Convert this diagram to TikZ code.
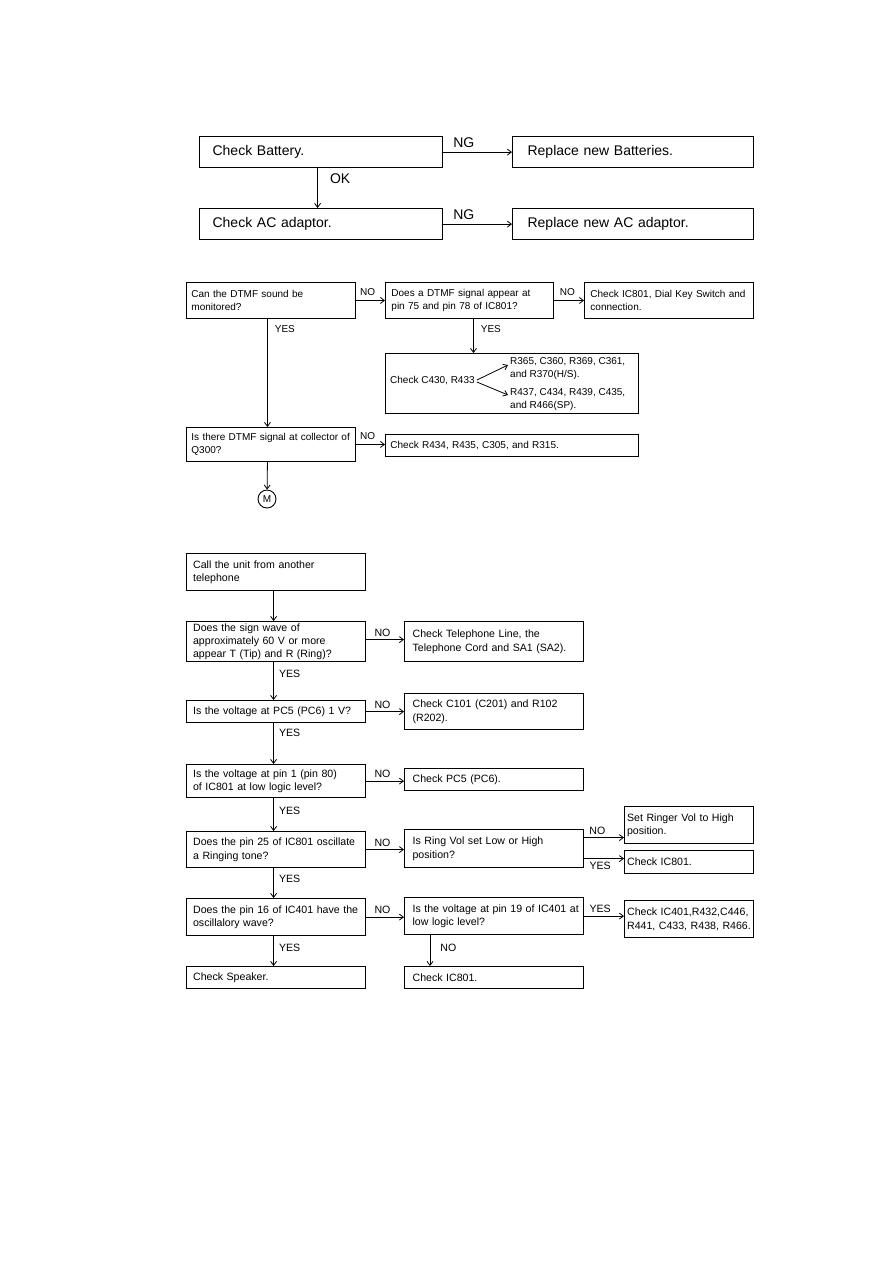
\documentclass[tikz,border=0pt]{standalone}
\usepackage{fontspec}
\setmainfont{Liberation Sans}
\usepackage{tikz}
\usetikzlibrary{arrows.meta}

\begin{document}
\begin{tikzpicture}[x=1pt, y=-1pt,
    box/.style={draw, line width=1.2pt, anchor=north west, align=left, inner ysep=0pt},
    arr/.style={line width=0.8pt, -{Straight Barb[length=4pt,width=6pt]}},
    lab/.style={inner sep=0pt},
    topfont/.style={font=\fontsize{14}{16}\selectfont},
    midfont/.style={font=\fontsize{10}{13}\selectfont},
    lowfont/.style={font=\fontsize{10.6}{13.5}\selectfont}]

    \useasboundingbox (0,0) rectangle (893,1262);

    \node[box, topfont, text width=217pt, minimum height=31pt, inner xsep=13pt] (batt) at (199,136) {Check Battery.};
    \node[box, topfont, text width=211pt, minimum height=31pt, inner xsep=15pt] (newbatt) at (512,136) {Replace new Batteries.};
    \node[box, topfont, text width=217pt, minimum height=31pt, inner xsep=13pt] (acad) at (199,208) {Check AC adaptor.};
    \node[box, topfont, text width=211pt, minimum height=31pt, inner xsep=15pt] (newac) at (512,208) {Replace new AC adaptor.};

    \draw[arr] (batt) -- node[lab, above=4pt, pos=0.3, topfont] {NG} (newbatt);
    \draw[arr] (acad) -- node[lab, above=4pt, pos=0.3, topfont] {NG} (newac);
    \draw[arr] ([xshift=-3.5pt]batt.south) -- node[lab, right=12pt, pos=0.27, topfont] {OK} ([xshift=-3.5pt]acad.north);

    \node[box, midfont, line width=0.9pt, text width=159pt, minimum height=36pt, inner xsep=5pt] (dtmfmon) at (186,282) {Can the DTMF sound be\\monitored?};
    \node[box, midfont, line width=0.9pt, text width=156pt, minimum height=36pt, inner xsep=6pt] (dtmfsig) at (385,282) {Does a DTMF signal appear at\\pin 75 and pin 78 of IC801?};
    \node[box, midfont, line width=0.9pt, text width=157pt, minimum height=36pt, inner xsep=6pt] (chkdial) at (584,282) {Check IC801, Dial Key Switch and\\connection.};
    \node[box, line width=0.9pt, minimum width=253pt, minimum height=60pt] (chkc430) at (385,353) {};
    \node[midfont, anchor=west, inner sep=0pt] (c430txt) at (390,381) {Check C430, R433};
    \node[midfont, anchor=west, align=left, inner sep=0pt] (hsparts) at (510,369) {R365, C360, R369, C361,\\and R370(H/S).};
    \node[midfont, anchor=west, align=left, inner sep=0pt] (spparts) at (510,400) {R437, C434, R439, C435,\\and R466(SP).};
    \node[box, midfont, line width=0.9pt, text width=159pt, minimum height=34pt, inner xsep=5pt] (q300) at (186,427) {\mbox{Is there DTMF signal at collector of}\\Q300?};
    \node[box, midfont, line width=0.9pt, text width=243pt, minimum height=22pt, inner xsep=5pt] (chkr434) at (385,434) {Check R434, R435, C305, and R315.};
    \node[draw, circle, line width=0.9pt, minimum size=18pt, inner sep=0pt, midfont] (mnode) at (267,499) {M};

    \draw[arr] (dtmfmon) -- node[lab, above=4pt, pos=0.4, midfont] {NO} (dtmfsig);
    \draw[arr] (dtmfsig) -- node[lab, above=4pt, pos=0.45, midfont] {NO} (chkdial);
    \draw[arr] ([xshift=4pt]dtmfsig.south) -- node[lab, right=7pt, pos=0.29, midfont] {YES} ([xshift=4pt]dtmfsig.south |- chkc430.north);
    \draw[arr] ([xshift=2pt,yshift=1pt]c430txt.east) -- ([xshift=-2pt,yshift=4pt]hsparts.west);
    \draw[arr] ([xshift=2pt,yshift=-1pt]c430txt.east) -- ([xshift=-2pt,yshift=5pt]spparts.west);
    \draw[arr] ([xshift=-3.5pt]dtmfmon.south) -- node[lab, right=7pt, pos=0.09, midfont] {YES} ([xshift=-3.5pt]q300.north);
    \draw[arr] (q300.east) -- node[lab, above=4pt, pos=0.4, midfont] {NO} (q300.east -| chkr434.west);
    \draw[arr] ([xshift=-3.5pt]q300.south) -- (mnode);

    \node[box, lowfont, text width=166pt, minimum height=37pt, inner xsep=6.5pt] (call) at (186,553) {Call the unit from another\\telephone};
    \node[box, lowfont, text width=166pt, minimum height=40pt, inner xsep=6.5pt, font=\fontsize{10.6}{13}\selectfont] (sine) at (186,621) {Does the sign wave of\\approximately 60 V or more\\appear T (Tip) and R (Ring)?};
    \node[box, lowfont, text width=166pt, minimum height=22pt, inner xsep=6.5pt] (pc5) at (186,700) {Is the voltage at PC5 (PC6) 1 V?};
    \node[box, lowfont, text width=166pt, minimum height=33pt, inner xsep=6.5pt] (pin1) at (186,764) {Is the voltage at pin 1 (pin 80)\\of IC801 at low logic level?};
    \node[box, lowfont, text width=166pt, minimum height=36pt, inner xsep=6.5pt] (pin25) at (186,831) {\mbox{Does the pin 25 of IC801 oscillate}\\a Ringing tone?};
    \node[box, lowfont, text width=166pt, minimum height=37pt, inner xsep=6.5pt] (pin16) at (186,898) {\mbox{Does the pin 16 of IC401 have the}\\oscillalory wave?};
    \node[box, lowfont, text width=166pt, minimum height=22pt, inner xsep=6.5pt] (spk) at (186,966) {Check Speaker.};

    \node[box, lowfont, text width=163pt, minimum height=40pt, inner xsep=8pt] (telline) at (404,621) {Check Telephone Line, the\\Telephone Cord and SA1 (SA2).};
    \node[box, lowfont, text width=163pt, minimum height=36pt, inner xsep=8pt] (c101) at (404,693) {Check C101 (C201) and R102\\(R202).};
    \node[box, lowfont, text width=163pt, minimum height=22pt, inner xsep=8pt] (chkpc5) at (404,768) {Check PC5 (PC6).};
    \node[box, lowfont, text width=163pt, minimum height=38pt, inner xsep=8pt] (ringvol) at (404,829) {Is Ring Vol set Low or High\\position?};
    \node[box, lowfont, text width=163pt, minimum height=37pt, inner xsep=8pt] (pin19) at (404,897) {\mbox{Is the voltage at pin 19 of IC401 at}\\low logic level?};
    \node[box, lowfont, text width=163pt, minimum height=22pt, inner xsep=8pt] (chkicb) at (404,966) {Check IC801.};

    \node[box, lowfont, text width=124pt, minimum height=37pt, inner xsep=2.5pt] (ringer) at (624,806) {Set Ringer Vol to High\\position.};
    \node[box, lowfont, text width=124pt, minimum height=23pt, inner xsep=2.5pt] (chkica) at (624,850) {Check IC801.};
    \node[box, lowfont, text width=124pt, minimum height=37pt, inner xsep=2.5pt] (chk401) at (624,900) {\mbox{Check IC401,R432,C446,}\\R441, C433, R438, R466.};

    \draw[arr] ([xshift=-2.5pt]call.south) -- ([xshift=-2.5pt]sine.north);
    \draw[arr] ([xshift=-2.5pt]sine.south) -- node[lab, right=5pt, pos=0.31, lowfont] {YES} ([xshift=-2.5pt]pc5.north);
    \draw[arr] ([xshift=-2.5pt]pc5.south) -- node[lab, right=5pt, pos=0.24, lowfont] {YES} ([xshift=-2.5pt]pin1.north);
    \draw[arr] ([xshift=-2.5pt]pin1.south) -- node[lab, right=5pt, pos=0.38, lowfont] {YES} ([xshift=-2.5pt]pin25.north);
    \draw[arr] ([xshift=-2.5pt]pin25.south) -- node[lab, right=5pt, pos=0.35, lowfont] {YES} ([xshift=-2.5pt]pin16.north);
    \draw[arr] ([xshift=-2.5pt]pin16.south) -- node[lab, right=5pt, pos=0.39, lowfont] {YES} ([xshift=-2.5pt]spk.north);

    \draw[arr] ([yshift=2pt]sine.east) -- node[lab, above=3pt, pos=0.43, lowfont] {NO} ([yshift=2pt]sine.east -| telline.west);
    \draw[arr] (pc5.east) -- node[lab, above=3pt, pos=0.43, lowfont] {NO} (pc5.east -| c101.west);
    \draw[arr] (pin1.east) -- node[lab, above=3pt, pos=0.43, lowfont] {NO} (pin1.east -| chkpc5.west);
    \draw[arr] (pin25.east) -- node[lab, above=3pt, pos=0.43, lowfont] {NO} (pin25.east -| ringvol.west);
    \draw[arr] (pin16.east) -- node[lab, above=3pt, pos=0.43, lowfont] {NO} (pin16.east -| pin19.west);

    \draw[arr] ([yshift=11pt]ringvol.east) -- node[lab, above=3pt, pos=0.33, lowfont] {NO} ([yshift=11pt]ringvol.east -| ringer.west);
    \draw[arr] ([yshift=-10pt]ringvol.east) -- node[lab, below=3pt, pos=0.4, lowfont] {YES} ([yshift=-10pt]ringvol.east -| chkica.west);
    \draw[arr] (pin19.east) -- node[lab, above=3pt, pos=0.4, lowfont] {YES} (pin19.east -| chk401.west);
    \draw[arr] ([xshift=26pt]pin19.south west) -- node[lab, right=10pt, pos=0.4, lowfont] {NO} ([xshift=26pt]pin19.south west |- chkicb.north);

\end{tikzpicture}
\end{document}
